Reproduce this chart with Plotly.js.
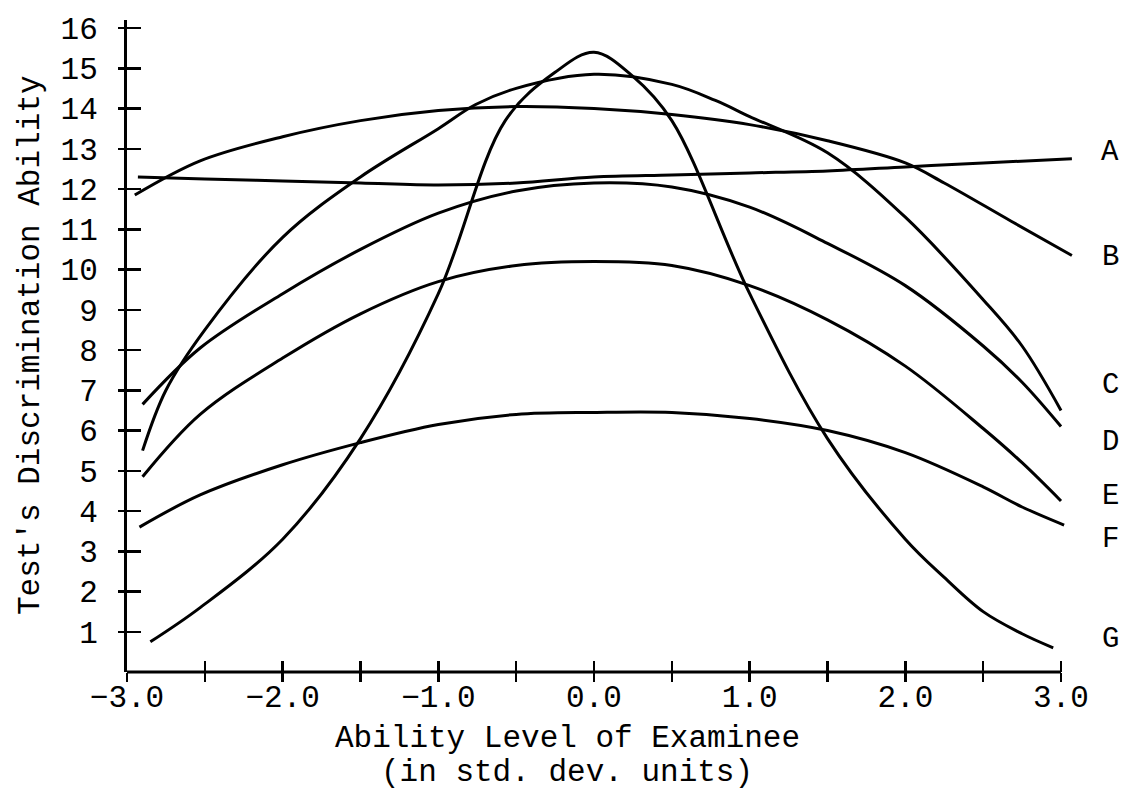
<!DOCTYPE html>
<html>
<head>
<meta charset="utf-8">
<script src="https://cdn.plot.ly/plotly-3.0.1.min.js"></script>
<style>
html,body{margin:0;padding:0;background:#fff;}
#chart{width:1128px;height:807px;}
</style>
</head>
<body>
<div id="chart"></div>
<script>
// ---- data ----
const curveNames = ["A", "B", "C", "D", "E", "F", "G"];

const xA = [-2.93, -2.5, -2.0, -1.5, -1.0, -0.5, 0.0, 0.5, 1.0, 1.5, 2.0, 2.5, 3.07];
const yA = [12.3, 12.25, 12.2, 12.15, 12.1, 12.15, 12.3, 12.35, 12.4, 12.45, 12.55, 12.65, 12.75];

const xB = [-2.95, -2.53, -2.0, -1.5, -1.0, -0.5, 0.0, 0.5, 1.0, 1.5, 2.0, 2.25, 2.68, 3.07];
const yB = [11.85, 12.7, 13.3, 13.7, 13.95, 14.05, 14.0, 13.85, 13.6, 13.2, 12.65, 12.15, 11.2, 10.35];

const xC = [-2.9, -2.75, -2.5, -2.0, -1.5, -1.0, -0.76, -0.5, 0.0, 0.5, 0.78, 1.0, 1.5, 2.0, 2.5, 2.75, 3.0];
const yC = [5.5, 7.0, 8.5, 10.8, 12.3, 13.5, 14.1, 14.5, 14.85, 14.6, 14.2, 13.8, 12.9, 11.3, 9.25, 8.1, 6.5];

const xD = [-2.9, -2.53, -2.0, -1.5, -1.0, -0.5, 0.0, 0.5, 1.0, 1.5, 2.0, 2.5, 2.75, 3.0];
const yD = [6.65, 8.05, 9.4, 10.5, 11.4, 11.95, 12.15, 12.05, 11.55, 10.65, 9.6, 8.1, 7.2, 6.1];

const xE = [-2.9, -2.53, -2.0, -1.5, -1.0, -0.5, 0.0, 0.5, 1.0, 1.5, 2.0, 2.5, 2.75, 3.0];
const yE = [4.85, 6.4, 7.8, 8.9, 9.7, 10.1, 10.2, 10.1, 9.6, 8.75, 7.6, 6.05, 5.2, 4.25];

const xF = [-2.92, -2.53, -2.0, -1.5, -1.0, -0.5, 0.0, 0.5, 1.0, 1.5, 2.0, 2.5, 2.75, 3.02];
const yF = [3.6, 4.4, 5.15, 5.7, 6.15, 6.4, 6.45, 6.45, 6.3, 6.0, 5.45, 4.6, 4.1, 3.65];

const xG = [-2.85, -2.53, -2.0, -1.5, -1.0, -0.57, -0.25, 0.0, 0.25, 0.5, 1.0, 1.5, 2.0, 2.25, 2.5, 2.75, 2.95];
const yG = [0.75, 1.6, 3.3, 5.8, 9.4, 13.7, 14.9, 15.4, 14.8, 13.7, 9.4, 5.8, 3.3, 2.35, 1.5, 0.95, 0.6];

const curveLabelY = [12.9, 10.3, 7.13, 5.71, 4.35, 3.28, 0.8];

const xTickVals = [-3.0, -2.5, -2.0, -1.5, -1.0, -0.5, 0.0, 0.5, 1.0, 1.5, 2.0, 2.5, 3.0];
const xTickText = ["\u22123.0", "", "\u22122.0", "", "\u22121.0", "", "0.0", "", "1.0", "", "2.0", "", "3.0"];
const yTickVals = [1, 2, 3, 4, 5, 6, 7, 8, 9, 10, 11, 12, 13, 14, 15, 16];
const yTickText = ["1", "2", "3", "4", "5", "6", "7", "8", "9", "10", "11", "12", "13", "14", "15", "16"];

const xTitle1 = "Ability Level of Examinee";
const xTitle2 = "(in std. dev. units)";
const yTitle = "Test's Discrimination Ability";

// ---- chart ----
const FONT = '"Courier New", "Liberation Mono", "DejaVu Sans Mono", monospace';
const TXT = 31;
const xs = [xA, xB, xC, xD, xE, xF, xG];
const ys = [yA, yB, yC, yD, yE, yF, yG];

// plot area geometry: x = -3 at 127px, x = 3 at 1061px; plot area extends a bit past 3.0
const L = 127, R = 1073, T = 20, B = 672;
const W = R - L, H = B - T;
const xMax = -3 + 6 * W / 934;

const traces = curveNames.map((n, i) => ({
  type: 'scatter', mode: 'lines', name: n,
  x: xs[i], y: ys[i],
  line: {color: '#000', width: 3, shape: 'spline', smoothing: 1},
  hoverinfo: 'skip'
}));

const annotations = curveNames.map((n, i) => ({
  text: n, x: (1110 - L) / W, y: curveLabelY[i], xref: 'paper', yref: 'y',
  showarrow: false, font: {family: FONT, size: 29, color: '#000'},
  xanchor: 'center', yanchor: 'middle'
}));
annotations.push({
  text: xTitle1, xref: 'paper', yref: 'paper', x: (567 - L) / W, y: -(738 - B) / H,
  showarrow: false, font: {family: FONT, size: TXT, color: '#000'}, xanchor: 'center', yanchor: 'middle'
});
annotations.push({
  text: xTitle2, xref: 'paper', yref: 'paper', x: (567 - L) / W, y: -(773 - B) / H,
  showarrow: false, font: {family: FONT, size: TXT, color: '#000'}, xanchor: 'center', yanchor: 'middle'
});
annotations.push({
  text: yTitle, xref: 'paper', yref: 'paper', x: (30 - L) / W, y: (B - 345) / H,
  showarrow: false, textangle: -90, font: {family: FONT, size: TXT, color: '#000'},
  xanchor: 'center', yanchor: 'middle'
});

const layout = {
  width: 1128, height: 807,
  margin: {l: L, r: 1128 - R, t: T, b: 807 - B},
  paper_bgcolor: '#fff', plot_bgcolor: '#fff',
  showlegend: false,
  font: {family: FONT, color: '#000', size: TXT},
  xaxis: {
    range: [-3.0, xMax], showgrid: false, zeroline: false,
    showline: false,
    tickmode: 'array', tickvals: xTickVals, ticktext: xTickText,
    ticks: 'outside', ticklen: 9, tickwidth: 2.5, tickcolor: '#000',
    ticklabelstandoff: -12,
    tickfont: {family: FONT, size: TXT, color: '#000'}
  },
  xaxis2: {
    range: [-3.0, xMax], overlaying: 'x', anchor: 'y', side: 'bottom',
    showgrid: false, zeroline: false, showline: false,
    tickmode: 'array', tickvals: xTickVals, showticklabels: false,
    ticks: 'inside', ticklen: 11, tickwidth: 2.5, tickcolor: '#000'
  },
  yaxis: {
    range: [0, 16.2], showgrid: false, zeroline: false,
    showline: true, linecolor: '#000', linewidth: 3,
    tickmode: 'array', tickvals: yTickVals, ticktext: yTickText,
    ticks: 'outside', ticklen: 6, tickwidth: 2.5, tickcolor: '#000',
    ticklabelstandoff: 14,
    tickfont: {family: FONT, size: TXT, color: '#000'}
  },
  yaxis2: {
    range: [0, 16.2], overlaying: 'y', anchor: 'x', side: 'left',
    showgrid: false, zeroline: false, showline: false,
    tickmode: 'array', tickvals: yTickVals, showticklabels: false,
    ticks: 'inside', ticklen: 14, tickwidth: 2.5, tickcolor: '#000'
  },
  shapes: [{
    // x-axis baseline, running from -3.0 to 3.0 only
    type: 'line', xref: 'x', yref: 'paper', x0: -3.0, x1: 3.0, y0: 0, y1: 0,
    line: {color: '#000', width: 3}, layer: 'above'
  }],
  annotations: annotations
};

// helper traces so the overlay axes are drawn
traces.push({type: 'scatter', x: [], y: [], xaxis: 'x2', yaxis: 'y', hoverinfo: 'skip', showlegend: false});
traces.push({type: 'scatter', x: [], y: [], xaxis: 'x', yaxis: 'y2', hoverinfo: 'skip', showlegend: false});

Plotly.newPlot('chart', traces, layout, {displayModeBar: false, staticPlot: true});
</script>
</body>
</html>
